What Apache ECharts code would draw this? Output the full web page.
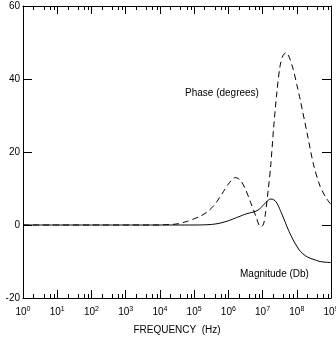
<!DOCTYPE html>
<html>
<head>
<meta charset="utf-8">
<script src="https://cdn.jsdelivr.net/npm/echarts@6/dist/echarts.min.js"></script>
<style>
  html, body { margin: 0; padding: 0; background: #fff; }
  #chart { width: 336px; height: 337px; }
</style>
</head>
<body>
<div id="chart"></div>
<script>
// frequency (Hz) and values
const phaseFreq = [1, 10, 100, 1e3, 1e4, 1.58e4, 3.16e4, 6.3e4, 1e5, 1.58e5, 2.5e5, 4e5, 6.3e5, 1e6, 1.58e6, 2.24e6, 3.16e6, 4.47e6, 6.3e6, 7.9e6, 9.1e6, 1.07e7, 1.2e7, 1.48e7, 1.74e7, 2.1e7, 2.63e7, 3.24e7, 3.98e7, 4.9e7, 6.3e7, 7.94e7, 1e8, 1.26e8, 2e8, 3.1e8, 4.8e8, 7.1e8, 1e9]
const phaseDeg = [0, 0, 0, 0, 0, 0.1, 0.3, 1.0, 1.7, 2.5, 3.7, 5.6, 8.3, 11.2, 13.0, 12.3, 9.8, 6.2, 2.5, 0, -0.5, 0.3, 2.8, 10, 16.5, 26.5, 36.5, 43.5, 46.5, 47.2, 45.5, 42.5, 38.5, 34.3, 25.2, 16.5, 10.6, 7.5, 5.6]

const magFreq = [1, 10, 100, 1e3, 1e4, 1e5, 2e5, 3.2e5, 5e5, 7.5e5, 1.1e6, 1.6e6, 2.2e6, 3e6, 4.2e6, 5.6e6, 7.4e6, 9.5e6, 1.26e7, 1.74e7, 2.14e7, 2.63e7, 3.3e7, 4.1e7, 5.6e7, 7.2e7, 1e8, 1.3e8, 1.78e8, 2.45e8, 3.55e8, 4.8e8, 7.1e8, 1e9]
const magDb = [0, 0, 0, 0, 0, 0, 0.05, 0.15, 0.4, 0.8, 1.3, 1.9, 2.4, 2.9, 3.3, 3.6, 4.1, 5.0, 6.2, 7.1, 6.9, 6.0, 4.0, 1.9, -1.2, -3.4, -5.8, -7.3, -8.4, -9.1, -9.6, -10.0, -10.2, -10.3]

// minor log ticks (2, 4, 6, 8 in each decade)
const minorTicks = []
for (let d = 0; d < 9; d++) {
  for (const m of [2, 4, 6, 8]) minorTicks.push(m * Math.pow(10, d))
}

const yMin = -20
const yMax = 60
const font = 'Liberation Sans, Arial, sans-serif'

const chart = echarts.init(document.getElementById('chart'), null, { renderer: 'canvas' })

const xBase = {
  type: 'log',
  logBase: 10,
  min: 1,
  max: 1e9,
  interval: 1,
  axisLine: { onZero: false, lineStyle: { color: '#000', width: 1 } },
  axisTick: { inside: true, length: 8, lineStyle: { color: '#000' } },
  splitLine: { show: false },
}
const yBase = {
  type: 'value',
  min: yMin,
  max: yMax,
  interval: 20,
  axisLine: { show: true, lineStyle: { color: '#000', width: 1 } },
  axisTick: { inside: true, length: 9, lineStyle: { color: '#000' } },
  splitLine: { show: false },
}

chart.setOption({
  backgroundColor: '#fff',
  animation: false,
  grid: { left: 23, right: 5, top: 6, bottom: 39, containLabel: false, outerBoundsMode: 'none' },
  xAxis: [
    {
      ...xBase,
      position: 'bottom',
      name: 'FREQUENCY  (Hz)',
      nameLocation: 'middle',
      nameGap: 27,
      nameTextStyle: { color: '#000', fontSize: 10, fontFamily: font },
      axisLabel: {
        margin: 8,
        formatter: (v) => '{b|10}{s|' + Math.round(Math.log10(v)) + '}',
        rich: {
          b: { color: '#000', fontSize: 10, fontFamily: font },
          s: { color: '#000', fontSize: 7, fontFamily: font, padding: [0, 0, 6, 0] },
        },
      },
    },
    { ...xBase, position: 'top', axisLabel: { show: false } },
  ],
  yAxis: [
    {
      ...yBase,
      position: 'left',
      axisLabel: { color: '#000', fontSize: 10, fontFamily: font, margin: 3 },
    },
    { ...yBase, position: 'right', axisLabel: { show: false } },
  ],
  graphic: [
    { type: 'text', left: 185, top: 88, style: { text: 'Phase (degrees)', fill: '#000', font: '10px ' + font } },
    { type: 'text', left: 240, top: 269, style: { text: 'Magnitude (Db)', fill: '#000', font: '10px ' + font } },
  ],
  series: [
    {
      name: 'Phase',
      type: 'line',
      data: phaseFreq.map((f, i) => [f, phaseDeg[i]]),
      showSymbol: false,
      smooth: 0.3,
      lineStyle: { color: '#000', width: 1, type: [6, 4] },
    },
    {
      name: 'Magnitude',
      type: 'line',
      data: magFreq.map((f, i) => [f, magDb[i]]),
      showSymbol: false,
      smooth: 0.4,
      lineStyle: { color: '#000', width: 1 },
    },
    {
      type: 'custom',
      silent: true,
      clip: false,
      z: 10,
      encode: { x: 0, y: 1 },
      data: minorTicks.map((f) => [f, 0]),
      renderItem: (params, api) => {
        const f = api.value(0)
        const bot = api.coord([f, yMin])
        const top = api.coord([f, yMax])
        const x = Math.round(bot[0]) + 0.5
        const st = { stroke: '#000', lineWidth: 1, fill: null }
        return {
          type: 'group',
          children: [
            { type: 'line', shape: { x1: x, y1: bot[1], x2: x, y2: bot[1] - 4 }, style: st },
            { type: 'line', shape: { x1: x, y1: top[1], x2: x, y2: top[1] + 4 }, style: st },
          ],
        }
      },
    },
  ],
})
</script>
</body>
</html>
